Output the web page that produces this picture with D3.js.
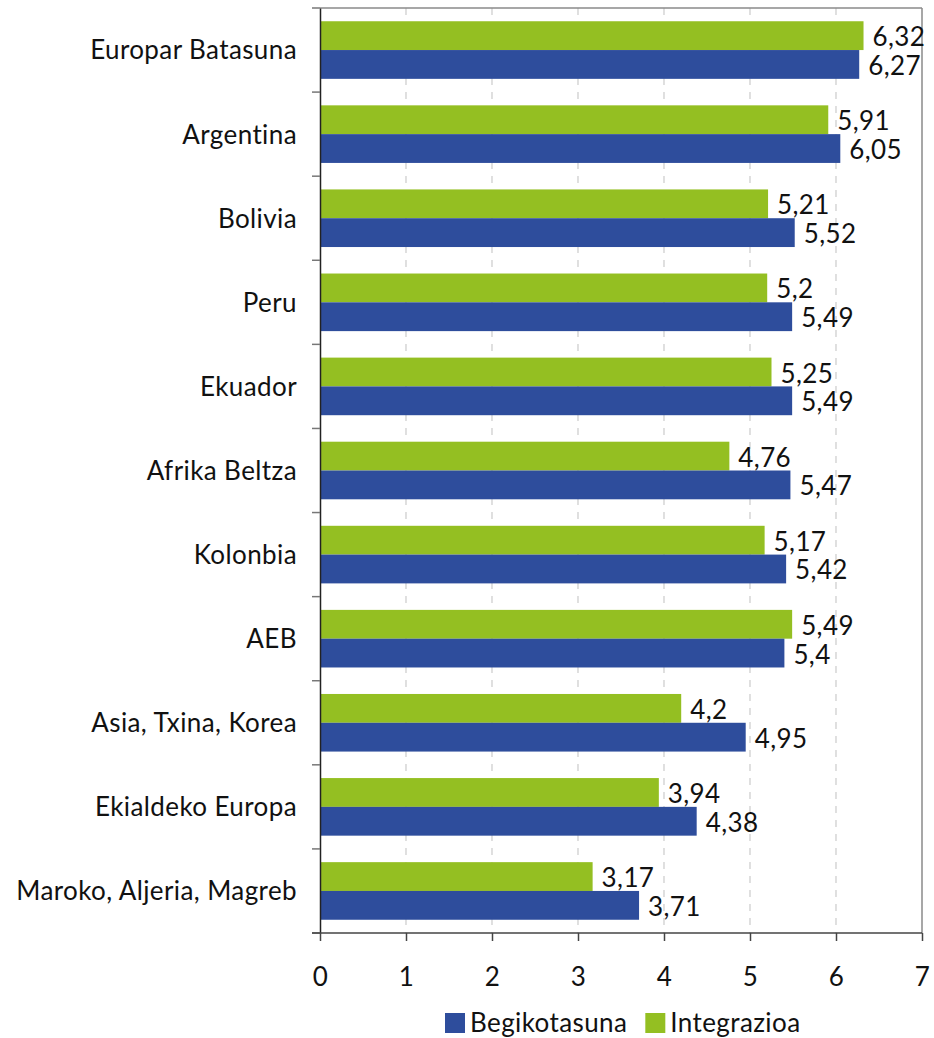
<!DOCTYPE html>
<html>
<head>
<meta charset="utf-8">
<script src="https://cdn.jsdelivr.net/npm/d3@7"></script>
<style>
  body { margin: 0; background: #fff; }
  text { font-family: Lato, "Open Sans", sans-serif; fill: #111; font-size: 26px; letter-spacing: 0.4px; }
</style>
</head>
<body>
<svg id="chart" width="934" height="1038"></svg>
<script>
// categories (top to bottom)
let categories = ["Europar Batasuna", "Argentina", "Bolivia", "Peru", "Ekuador", "Afrika Beltza",
  "Kolonbia", "AEB", "Asia, Txina, Korea", "Ekialdeko Europa", "Maroko, Aljeria, Magreb"];
let integrazioa = [6.32, 5.91, 5.21, 5.2, 5.25, 4.76, 5.17, 5.49, 4.2, 3.94, 3.17];
let begikotasuna = [6.27, 6.05, 5.52, 5.49, 5.49, 5.47, 5.42, 5.4, 4.95, 4.38, 3.71];
let xTicks = [0, 1, 2, 3, 4, 5, 6, 7];
let seriesNames = ["Integrazioa", "Begikotasuna"];
let legendNames = ["Begikotasuna", "Integrazioa"];

let colors = { "Integrazioa": "#94bf22", "Begikotasuna": "#2e4d9c" };

let svg = d3.select("#chart");
let plotLeft = 320, plotRight = 922, plotTop = 8, plotBottom = 933;

let x = d3.scaleLinear().domain([0, 7]).range([plotLeft, plotRight]);
let y = d3.scaleBand().domain(categories).range([plotTop, plotBottom]).padding(0);
let ySub = d3.scaleBand().domain(seriesNames).range([0, y.bandwidth()]).paddingInner(0).paddingOuter(0.46);

let fmt = v => String(v).replace(".", ",");

// vertical dashed grid
svg.append("g").selectAll("line")
  .data(xTicks.filter(d => d > 0 && d < 7)).enter()
  .append("line")
  .attr("x1", d => x(d)).attr("x2", d => x(d))
  .attr("y1", plotTop).attr("y2", plotBottom)
  .attr("stroke", "#cfcfcf")
  .attr("stroke-width", 1.3)
  .attr("stroke-dasharray", "7,7");

// frame top and right
svg.append("line").attr("x1", plotLeft).attr("x2", plotRight).attr("y1", plotTop).attr("y2", plotTop)
  .attr("stroke", "#8a8a8a").attr("stroke-width", 1.5);
svg.append("line").attr("x1", plotRight).attr("x2", plotRight).attr("y1", plotTop).attr("y2", plotBottom)
  .attr("stroke", "#8a8a8a").attr("stroke-width", 1.5);

let rows = categories.map((c, i) => ({ cat: c, Integrazioa: integrazioa[i], Begikotasuna: begikotasuna[i] }));

let groups = svg.append("g").selectAll("g")
  .data(rows).enter()
  .append("g")
  .attr("transform", d => "translate(0," + y(d.cat) + ")");

groups.selectAll("rect")
  .data(d => seriesNames.map(s => ({ s: s, v: d[s] }))).enter()
  .append("rect")
  .attr("x", x(0))
  .attr("y", d => ySub(d.s))
  .attr("width", d => x(d.v) - x(0))
  .attr("height", ySub.bandwidth())
  .attr("fill", d => colors[d.s]);

groups.selectAll("text.val")
  .data(d => seriesNames.map(s => ({ s: s, v: d[s] }))).enter()
  .append("text")
  .attr("class", "val")
  .attr("x", d => x(d.v) + 9)
  .attr("y", d => ySub(d.s) + ySub.bandwidth() / 2 + 10.5)
  .text(d => fmt(d.v));

// y axis
let yAxis = d3.axisLeft(y).tickSize(0).tickPadding(23);
let yg = svg.append("g").attr("transform", "translate(" + plotLeft + ",0)").call(yAxis);
yg.attr("font-size", null).attr("font-family", null);
yg.select(".domain").attr("stroke", "#222").attr("stroke-width", 1.5);
yg.selectAll("text").attr("fill", "#111").attr("dy", "0.36em");
// category separator ticks
svg.append("g").selectAll("line")
  .data(categories.map(c => y(c)).concat([plotBottom])).enter()
  .append("line")
  .attr("x1", plotLeft - 8).attr("x2", plotLeft)
  .attr("y1", d => d).attr("y2", d => d)
  .attr("stroke", "#777").attr("stroke-width", 1.5);

// x axis
let xAxis = d3.axisBottom(x).tickValues(xTicks).tickSize(8).tickPadding(27).tickFormat(d => d);
let xg = svg.append("g").attr("transform", "translate(0," + plotBottom + ")").call(xAxis);
xg.attr("font-size", null).attr("font-family", null);
xg.select(".domain").attr("stroke", "#444").attr("stroke-width", 1.5).attr("d", "M" + (plotLeft - 8) + ",0H" + plotRight);
xg.selectAll(".tick line").attr("stroke", "#444").attr("stroke-width", 1.5);
xg.selectAll("text").attr("fill", "#111");

// legend
let legend = svg.append("g").attr("transform", "translate(445,1013)");
let lx = 0;
legendNames.forEach(function(name) {
  legend.append("rect").attr("x", lx).attr("y", 0).attr("width", 20).attr("height", 20).attr("fill", colors[name]);
  let t = legend.append("text").attr("x", lx + 25).attr("y", 18.7).text(name);
  lx += 25 + t.node().getComputedTextLength() + 18;
});
</script>
</body>
</html>
